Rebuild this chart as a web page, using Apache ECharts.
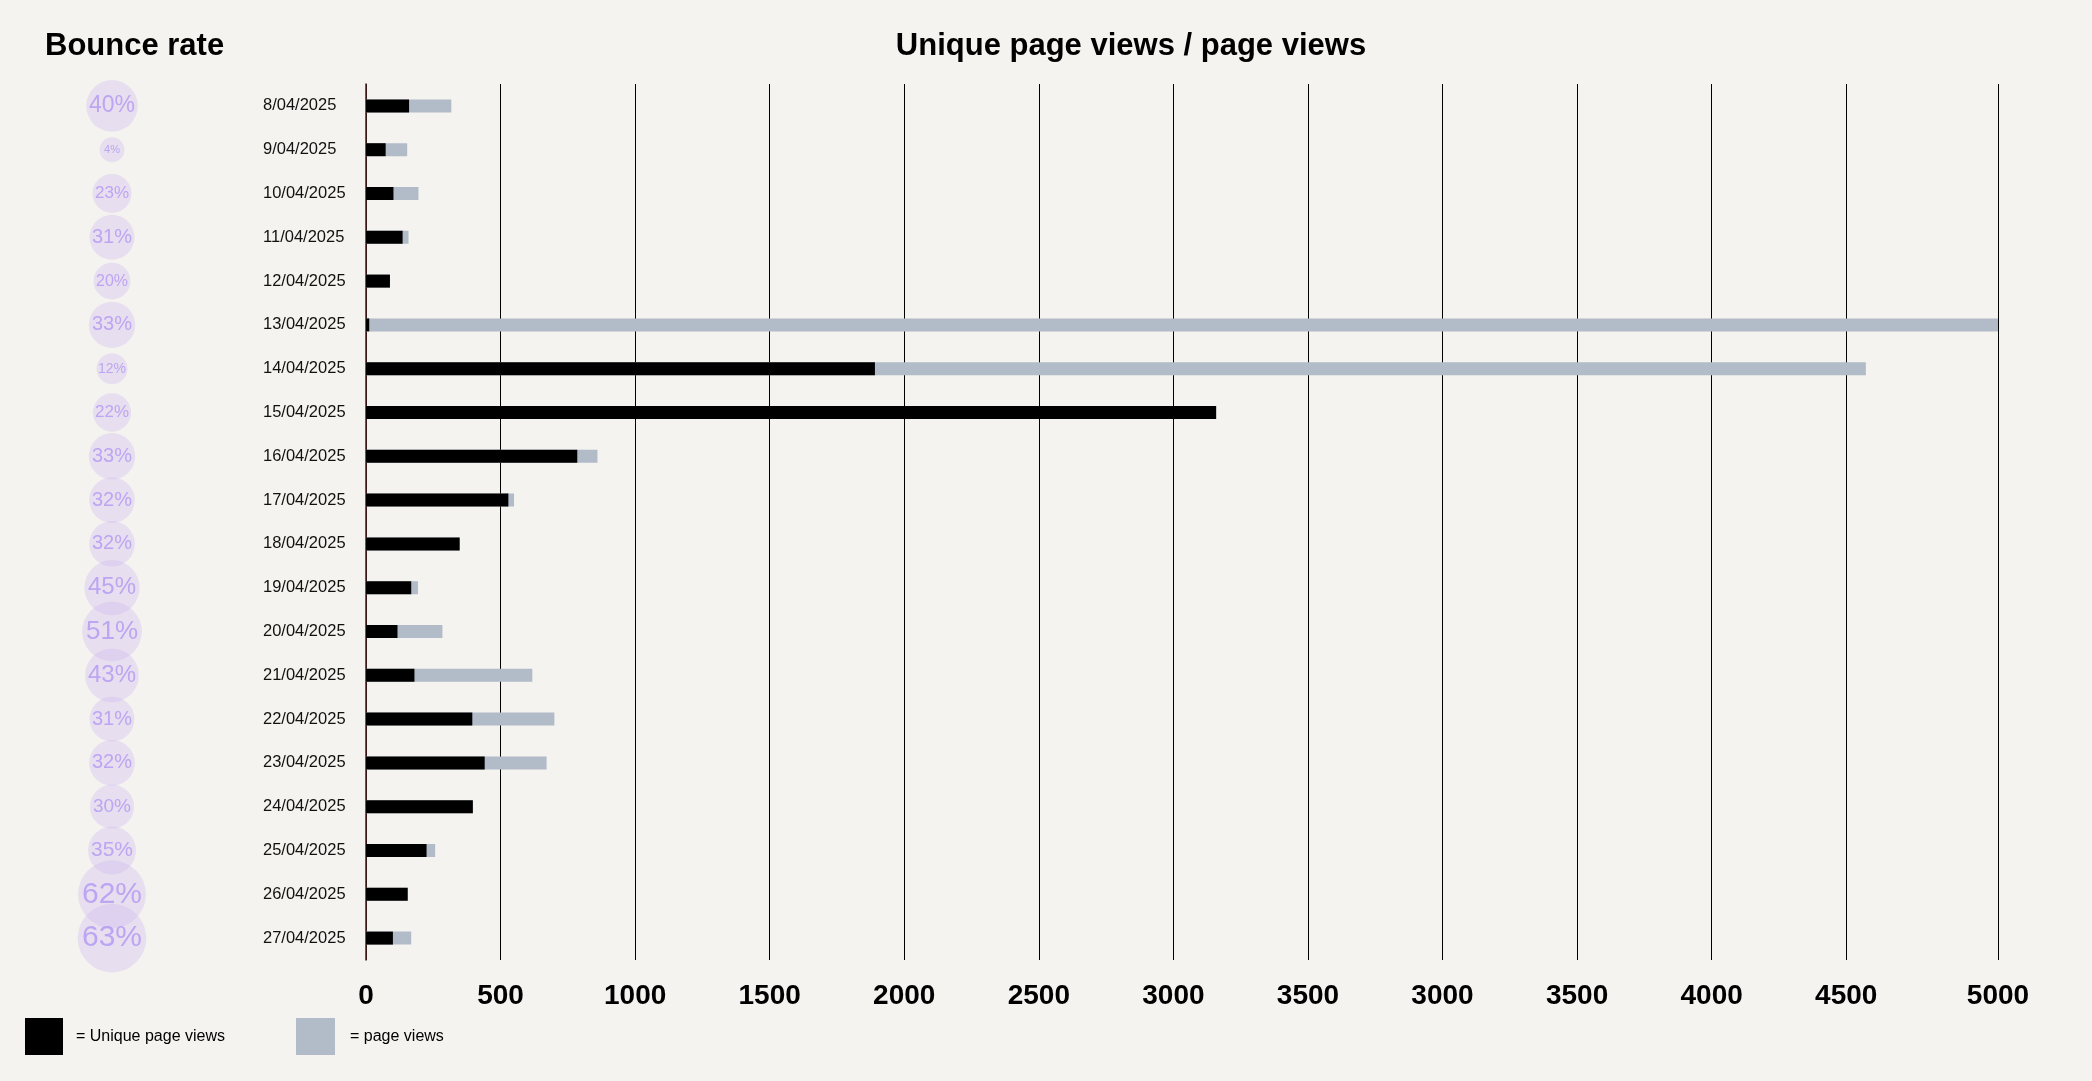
<!DOCTYPE html>
<html>
<head>
<meta charset="utf-8">
<script src="https://cdn.jsdelivr.net/npm/echarts@6/dist/echarts.min.js"></script>
<style>
  html, body { margin: 0; padding: 0; background: #f4f3ef; }
  #chart { width: 2092px; height: 1081px; }
</style>
</head>
<body>
<div id="chart"></div>
<script>
// ---- data ----
const DATES = ['8/04/2025','9/04/2025','10/04/2025','11/04/2025','12/04/2025','13/04/2025','14/04/2025',
  '15/04/2025','16/04/2025','17/04/2025','18/04/2025','19/04/2025','20/04/2025','21/04/2025',
  '22/04/2025','23/04/2025','24/04/2025','25/04/2025','26/04/2025','27/04/2025'];
// values in the chart's own axis units (as drawn)
const UNIQUE_VIEWS = [160, 73, 102, 136, 89, 12, 1891, 3159, 785, 529, 348, 168, 117, 180, 395, 441, 397, 225, 155, 100];
const PAGE_VIEWS   = [317, 153, 195, 158, 89, 6070, 5573, 1274, 860, 550, 348, 193, 284, 618, 700, 671, 397, 257, 155, 168];
const BOUNCE_RATE  = [40, 4, 23, 31, 20, 33, 12, 22, 33, 32, 32, 45, 51, 43, 31, 32, 30, 35, 62, 63];
// tick positions on the axis and the labels printed at them
const TICK_POS    = [0, 500, 1000, 1500, 2000, 2500, 3000, 3500, 4000, 4500, 5000, 5500, 6064];
const TICK_LABELS = ['0','500','1000','1500','2000','2500','3000','3500','3000','3500','4000','4500','5000'];

const FONT = '"Liberation Sans", Helvetica, Arial, sans-serif';
const chart = echarts.init(document.getElementById('chart'), null, { renderer: 'canvas' });

const GRID_TOP = 84, GRID_H = 876;

const bubbleSize = v => 22 + 0.74 * v;

const option = {
  backgroundColor: '#f4f3ef',
  animation: false,
  title: [
    { text: 'Bounce rate', left: 40, top: 26,
      textStyle: { fontFamily: FONT, fontSize: 31, fontWeight: 'bold', color: '#000' } },
    { text: 'Unique page views / page views', left: 1126, top: 26, textAlign: 'center',
      textStyle: { fontFamily: FONT, fontSize: 31, fontWeight: 'bold', color: '#000' } }
  ],
  legend: [
    { data: ['Unique page views'], left: 25, top: 1018, padding: 0, itemWidth: 38, itemHeight: 37,
      icon: 'rect', selectedMode: false, formatter: '= {name}',
      textStyle: { fontFamily: FONT, fontSize: 16, color: '#000', padding: [0, 0, 0, 8] } },
    { data: ['page views'], left: 296, top: 1018, padding: 0, itemWidth: 39, itemHeight: 37,
      icon: 'rect', selectedMode: false, formatter: '= {name}',
      textStyle: { fontFamily: FONT, fontSize: 16, color: '#000', padding: [0, 0, 0, 10] } }
  ],
  grid: [
    { left: 366, top: GRID_TOP, width: 1632, height: GRID_H, containLabel: false },
    { left: 62, top: GRID_TOP, width: 100, height: GRID_H, containLabel: false }
  ],
  xAxis: [
    { type: 'value', gridIndex: 0, min: 0, max: 6064,
      axisLine: { show: false },
      axisTick: { show: false, customValues: TICK_POS },
      splitLine: { show: true, lineStyle: { color: '#000', width: 1 } },
      axisLabel: { customValues: TICK_POS, margin: 22,
        formatter: v => TICK_LABELS[TICK_POS.indexOf(v)],
        fontFamily: FONT, fontSize: 28, fontWeight: 'bold', color: '#000' } },
    { type: 'value', gridIndex: 1, min: -1, max: 1, show: false }
  ],
  yAxis: [
    { type: 'category', gridIndex: 0, data: DATES, inverse: true,
      axisLine: { show: true, lineStyle: { color: '#4a1c1c', width: 1.5 } },
      axisTick: { show: false },
      splitLine: { show: false },
      axisLabel: { align: 'left', margin: 103, fontFamily: FONT, fontSize: 16.5, color: '#111' } },
    { type: 'category', gridIndex: 1, data: DATES, inverse: true, show: false }
  ],
  series: [
    { name: 'page views', type: 'bar', xAxisIndex: 0, yAxisIndex: 0, barWidth: 13, barGap: '-100%',
      itemStyle: { color: '#b1bcc8' },
      data: PAGE_VIEWS.map((v, i) => DATES[i] === '15/04/2025'
        ? { value: v, itemStyle: { color: '#b1bcc8', borderColor: '#c8524e', borderWidth: 1 } }
        : v) },
    { name: 'Unique page views', type: 'bar', xAxisIndex: 0, yAxisIndex: 0, barWidth: 13, barGap: '-100%',
      itemStyle: { color: '#000' },
      data: UNIQUE_VIEWS },
    { name: 'Bounce rate', type: 'scatter', xAxisIndex: 1, yAxisIndex: 1,
      symbol: 'circle',
      symbolSize: (val) => bubbleSize(val[2]),
      itemStyle: { color: 'rgba(196, 172, 240, 0.35)' },
      label: { show: true, position: 'inside', fontFamily: FONT, color: '#b196f2',
        formatter: p => p.value[2] + '%' },
      data: BOUNCE_RATE.map((v, i) => ({
        value: [0, i, v],
        label: { fontSize: Math.round(bubbleSize(v) * 0.44) }
      })) }
  ]
};
chart.setOption(option);
</script>
</body>
</html>
